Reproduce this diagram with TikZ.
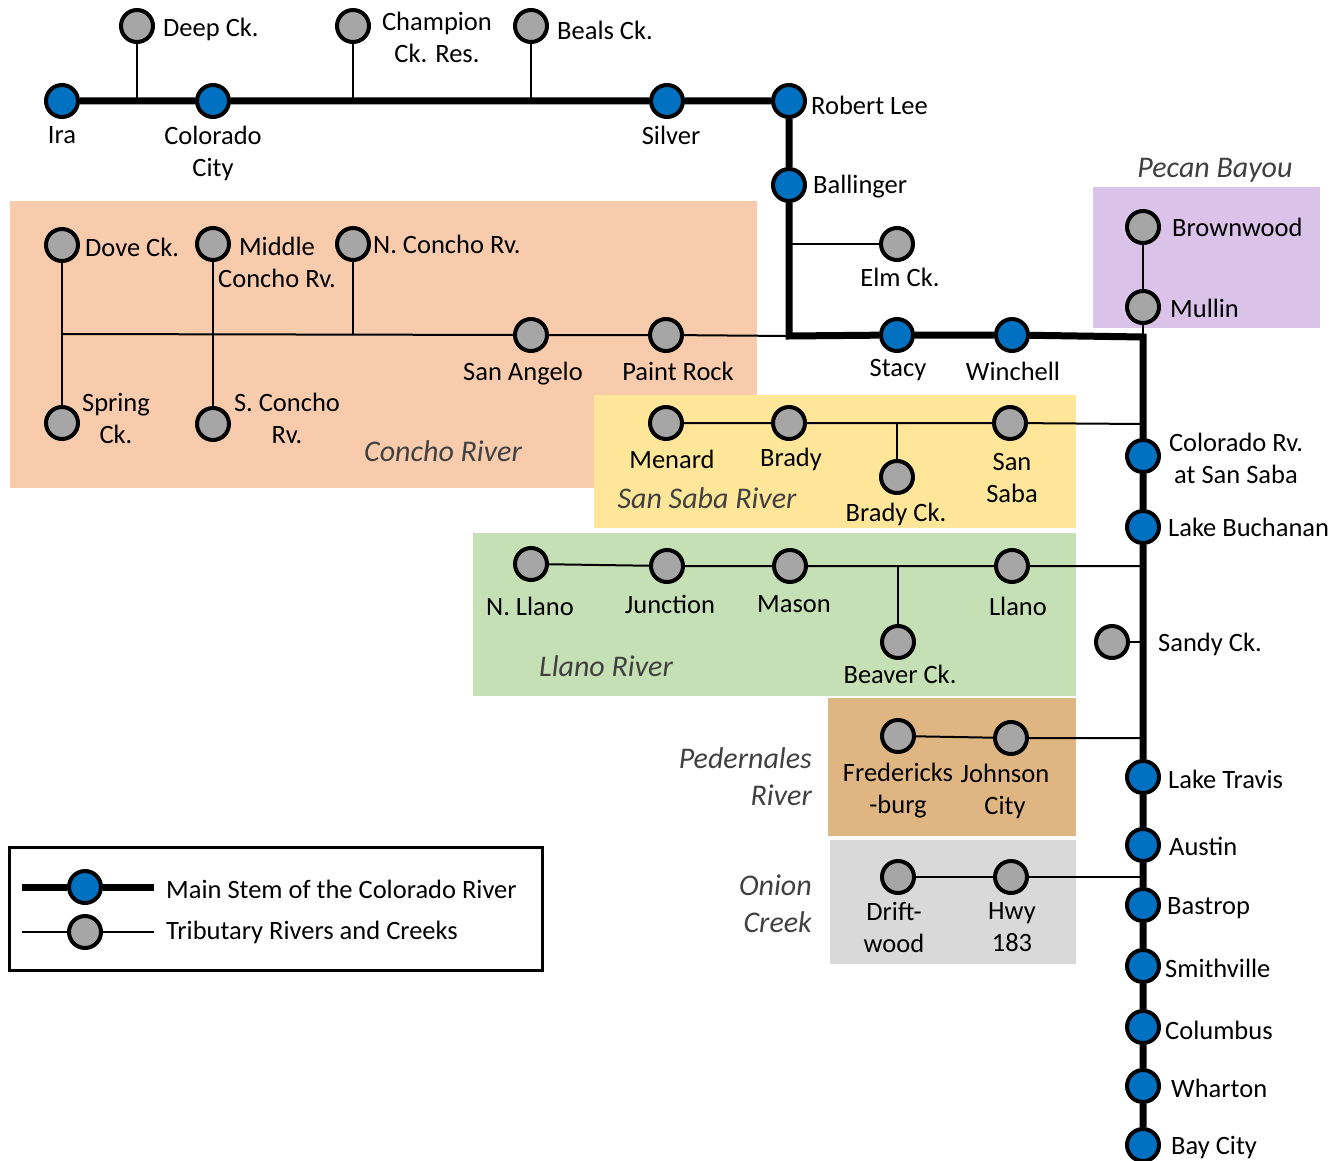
\documentclass[tikz,border=0pt]{standalone}
\usepackage{fontspec}
\setmainfont{Carlito}
\definecolor{mainblue}{RGB}{0,112,192}
\definecolor{tribgray}{RGB}{166,166,166}
\definecolor{conchoc}{RGB}{248,203,173}
\definecolor{sabac}{RGB}{255,230,153}
\definecolor{llanoc}{RGB}{197,224,180}
\definecolor{pedc}{RGB}{223,182,130}
\definecolor{onionc}{RGB}{217,217,217}
\definecolor{pecanc}{RGB}{218,194,232}
\definecolor{grpgray}{RGB}{64,64,64}
\pgfdeclarelayer{boxes}
\pgfdeclarelayer{lines}
\pgfsetlayers{boxes,lines,main}
\begin{document}
\begin{tikzpicture}[x=1pt,y=-1pt,
  mainnode/.style={circle, draw=black, line width=4pt, fill=mainblue, minimum size=32pt, inner sep=0pt},
  tribnode/.style={circle, draw=black, line width=4pt, fill=tribgray, minimum size=32pt, inner sep=0pt},
  mainline/.style={line width=7pt, black, line join=miter},
  tribline/.style={line width=2pt, black},
  lbl/.style={font=\fontsize{26.5}{32}\selectfont, inner sep=0pt, align=center, text=black},
  grp/.style={font=\fontsize{30}{37}\selectfont\itshape, inner sep=0pt, text=grpgray}
]
\useasboundingbox (0,0) rectangle (1333,1161);

% ---- group boxes
\begin{pgfonlayer}{boxes}
\fill[conchoc] (10,201) rectangle (757,488);
\fill[sabac] (594,395) rectangle (1076,528);
\fill[llanoc] (473,533) rectangle (1076,696);
\fill[pedc] (828,698) rectangle (1076,836);
\fill[onionc] (830,840) rectangle (1076,964);
\fill[pecanc] (1093,187) rectangle (1320,328);
\end{pgfonlayer}

% ---- main stem nodes
\node[mainnode] (ira) at (62,101) {};
\node[mainnode] (ccity) at (213,101) {};
\node[mainnode] (silver) at (667,101) {};
\node[mainnode] (rlee) at (789,101) {};
\node[mainnode] (ball) at (789,185) {};
\node[mainnode] (stacy) at (897,335) {};
\node[mainnode] (winch) at (1012,335) {};
\node[mainnode] (csaba) at (1143,456) {};
\node[mainnode] (buch) at (1143,527) {};
\node[mainnode] (travis) at (1143,777) {};
\node[mainnode] (austin) at (1143,845) {};
\node[mainnode] (bastrop) at (1143,905) {};
\node[mainnode] (smith) at (1143,966) {};
\node[mainnode] (colum) at (1143,1027) {};
\node[mainnode] (whart) at (1143,1086) {};
\node[mainnode] (bay) at (1143,1145) {};

% ---- tributary nodes
\node[tribnode] (deep) at (137,26) {};
\node[tribnode] (champ) at (353,26) {};
\node[tribnode] (beals) at (531,26) {};
\node[tribnode] (elm) at (897,244) {};
\node[tribnode] (brown) at (1143,227) {};
\node[tribnode] (mullin) at (1143,307) {};
\node[tribnode] (dove) at (62,245) {};
\node[tribnode] (spring) at (62,423) {};
\node[tribnode] (midc) at (213,244) {};
\node[tribnode] (sconcho) at (213,424) {};
\node[tribnode] (nconcho) at (353,244) {};
\node[tribnode] (sangelo) at (531,335) {};
\node[tribnode] (paint) at (666,335) {};
\node[tribnode] (menard) at (666,423) {};
\node[tribnode] (brady) at (789,423) {};
\node[tribnode] (bradyck) at (897,477) {};
\node[tribnode] (sansaba) at (1010,423) {};
\node[tribnode] (nllano) at (531,564) {};
\node[tribnode] (junction) at (667,566) {};
\node[tribnode] (mason) at (790,566) {};
\node[tribnode] (beaver) at (898,642) {};
\node[tribnode] (llano) at (1012,566) {};
\node[tribnode] (sandy) at (1112,642) {};
\node[tribnode] (fred) at (898,736) {};
\node[tribnode] (johnson) at (1011,738) {};
\node[tribnode] (drift) at (898,877) {};
\node[tribnode] (hwy) at (1011,877) {};

% ---- junction points
\coordinate (jdeep) at (137,101);
\coordinate (jchamp) at (353,101);
\coordinate (jbeals) at (531,101);
\coordinate (jelm) at (789,244);
\coordinate (cs) at (789,336);
\coordinate (cc) at (1143,337);
\coordinate (jdove) at (62,334);
\coordinate (jmid) at (213,334);
\coordinate (jnc) at (353,334);
\coordinate (jss) at (1143,424);
\coordinate (jbc) at (897,424);
\coordinate (jll) at (1143,566);
\coordinate (jbv) at (898,566);
\coordinate (jsandy) at (1143,642);
\coordinate (jped) at (1143,738);
\coordinate (jon) at (1143,877);

% ---- connectors
\begin{pgfonlayer}{lines}
\draw[mainline] (ira) -- (ccity) -- (silver) -- (rlee) -- (ball) -- (cs) -- (stacy) -- (winch) -- (cc) -- (csaba) -- (buch) -- (travis) -- (austin) -- (bastrop) -- (smith) -- (colum) -- (whart) -- (bay);
\draw[tribline] (deep) -- (jdeep);
\draw[tribline] (champ) -- (jchamp);
\draw[tribline] (beals) -- (jbeals);
\draw[tribline] (elm) -- (jelm);
\draw[tribline] (brown) -- (mullin) -- (cc);
\draw[tribline] (dove) -- (spring);
\draw[tribline] (midc) -- (sconcho);
\draw[tribline] (nconcho) -- (jnc);
\draw[tribline] (jdove) -- (sangelo) -- (paint) -- (cs);
\draw[tribline] (menard) -- (brady) -- (sansaba) -- (jss);
\draw[tribline] (bradyck) -- (jbc);
\draw[tribline] (nllano) -- (junction) -- (mason) -- (llano) -- (jll);
\draw[tribline] (beaver) -- (jbv);
\draw[tribline] (sandy) -- (jsandy);
\draw[tribline] (fred) -- (johnson) -- (jped);
\draw[tribline] (drift) -- (hwy) -- (jon);
\end{pgfonlayer}

% ---- node labels
\node[lbl, anchor=west] (tdeep) at (163,29) {Deep Ck.};
\node[lbl] (tchamp) at (437,37) {Champion\\Ck. Res.};
\node[lbl, anchor=west] (tbeals) at (557,30) {Beals Ck.};
\node[lbl] (tira) at (62,135) {Ira};
\node[lbl] (tccity) at (213,153) {Colorado\\City};
\node[lbl] (tsilver) at (671,135) {Silver};
\node[lbl, anchor=west] (trlee) at (811,105) {Robert Lee};
\node[lbl, anchor=west] (tball) at (813,187) {Ballinger};
\node[lbl] (telm) at (900,277) {Elm Ck.};
\node[lbl, anchor=west] (tdove) at (85,247) {Dove Ck.};
\node[lbl] (tmid) at (277,262) {Middle\\Concho Rv.};
\node[lbl, anchor=west] (tnc) at (373,244) {N. Concho Rv.};
\node[lbl] (tspring) at (116,418) {Spring\\Ck.};
\node[lbl] (tsc) at (287,418) {S. Concho\\Rv.};
\node[lbl] (tsang) at (523,374) {San Angelo};
\node[lbl] (tpaint) at (678,371) {Paint Rock};
\node[lbl] (tstacy) at (898,370) {Stacy};
\node[lbl] (twinch) at (1013,371) {Winchell};
\node[lbl, anchor=west] (tbrown) at (1172,227) {Brownwood};
\node[lbl, anchor=west] (tmullin) at (1170,308) {Mullin};
\node[lbl] (tmenard) at (672,459) {Menard};
\node[lbl] (tbrady) at (791,459) {Brady};
\node[lbl] (tbradyck) at (896,514) {Brady Ck.};
\node[lbl] (tsansaba) at (1012,478) {San\\Saba};
\node[lbl] (tcsaba) at (1236,458) {Colorado Rv.\\at San Saba};
\node[lbl, anchor=west] (tbuch) at (1168,527) {Lake Buchanan};
\node[lbl] (tnllano) at (530,606) {N. Llano};
\node[lbl] (tjunc) at (670,604) {Junction};
\node[lbl] (tmason) at (794,604) {Mason};
\node[lbl] (tllano) at (1018,606) {Llano};
\node[lbl] (tbeaver) at (900,674) {Beaver Ck.};
\node[lbl, anchor=west] (tsandy) at (1158,644) {Sandy Ck.};
\node[lbl] (tfred) at (898,791) {Fredericks\\-burg};
\node[lbl] (tjohn) at (1005,791) {Johnson\\City};
\node[lbl, anchor=west] (ttravis) at (1168,779) {Lake Travis};
\node[lbl, anchor=west] (taustin) at (1169,846) {Austin};
\node[lbl] (tdrift) at (894,927) {Drift-\\wood};
\node[lbl] (thwy) at (1012,927) {Hwy\\183};
\node[lbl, anchor=west] (tbastrop) at (1167,908) {Bastrop};
\node[lbl, anchor=west] (tsmith) at (1165,968) {Smithville};
\node[lbl, anchor=west] (tcolum) at (1165,1030) {Columbus};
\node[lbl, anchor=west] (twhart) at (1171,1088) {Wharton};
\node[lbl, anchor=west] (tbay) at (1171,1148) {Bay City};

% ---- group labels
\node[grp] (gpecan) at (1215,170) {Pecan Bayou};
\node[grp] (gconcho) at (443,451) {Concho River};
\node[grp] (gsaba) at (707,498) {San Saba River};
\node[grp] (gllano) at (606,666) {Llano River};
\node[grp, align=right, anchor=east] (gped) at (812,777) {Pedernales\\River};
\node[grp, align=right, anchor=east] (gonion) at (812,904) {Onion\\Creek};

% ---- legend
\node[draw=black, line width=3pt, minimum width=533pt, minimum height=123pt, inner sep=0pt, anchor=north west] (legend) at (8,846) {};
\node[mainnode] (lgm) at (85,887) {};
\node[tribnode] (lgt) at (85,932) {};
\coordinate (lgm1) at (22,887);
\coordinate (lgm2) at (154,887);
\coordinate (lgt1) at (22,932);
\coordinate (lgt2) at (154,932);
\begin{pgfonlayer}{lines}
\draw[mainline] (lgm1) -- (lgm) -- (lgm2);
\draw[tribline] (lgt1) -- (lgt) -- (lgt2);
\end{pgfonlayer}
\node[lbl, anchor=west] (lgmt) at (166,889) {Main Stem of the Colorado River};
\node[lbl, anchor=west] (lgtt) at (166,932) {Tributary Rivers and Creeks};
\end{tikzpicture}
\end{document}
